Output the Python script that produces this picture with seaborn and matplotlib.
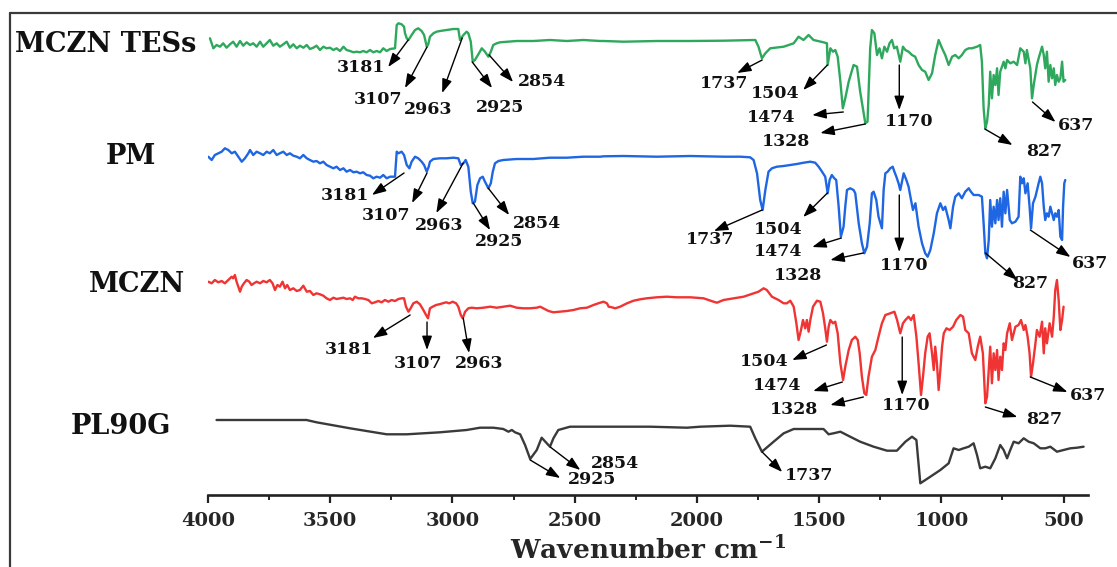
import numpy as np
import pandas as pd
import matplotlib
matplotlib.use("Agg")
import matplotlib.pyplot as plt
from matplotlib.lines import Line2D
from matplotlib.ticker import MultipleLocator
import seaborn as sns

# ---------------- data (wavenumber cm-1, relative transmittance a.u.) ----------------
series_names = ["MCZN TESs", "PM", "MCZN", "PL90G"]
series_colors = ["#2ea85c", "#1f66e3", "#f03333", "#3a3a3a"]
offsets = [420, 300, 180, 40]

tess_wn = [
    3992, 3978, 3965, 3951, 3938, 3924, 3910, 3897, 3883, 3869,
    3856, 3842, 3828, 3815, 3801, 3787, 3774, 3760, 3747, 3733,
    3719, 3706, 3692, 3678, 3665, 3651, 3637, 3624, 3610, 3596,
    3583, 3569, 3556, 3542, 3528, 3515, 3501, 3487, 3474, 3460,
    3446, 3433, 3419, 3405, 3392, 3378, 3365, 3351, 3337, 3324,
    3310, 3296, 3283, 3269, 3255, 3235, 3228, 3221, 3208, 3198,
    3194, 3187, 3180, 3167, 3153, 3140, 3126, 3116, 3105, 3099,
    3092, 3078, 3065, 3051, 3024, 2996, 2976, 2969, 2955, 2942,
    2935, 2925, 2917, 2908, 2894, 2880, 2867, 2853, 2843, 2833,
    2819, 2805, 2737, 2669, 2601, 2532, 2464, 2396,
    2382, 2300, 2164, 2027, 1891, 1823, 1761, 1748, 1734, 1720,
    1700, 1645, 1604, 1584, 1564, 1543, 1523, 1482, 1468, 1465,
    1454, 1443, 1434, 1424, 1413, 1403, 1393, 1379, 1359, 1345,
    1332, 1311, 1302, 1291, 1284, 1274, 1263, 1253, 1243, 1233,
    1222, 1212, 1202, 1193, 1182, 1168, 1157, 1147, 1134, 1120,
    1107, 1093, 1079, 1066, 1052, 1038, 1025, 1011, 997, 984,
    970, 956, 943, 929, 916, 902, 888, 875, 854, 841,
    834, 827, 820, 813, 806, 800, 793, 786, 779, 772,
    766, 759, 745, 738, 731, 718, 704, 690, 677, 663,
    656, 650, 636, 629, 622, 609, 602, 588, 581, 575,
    568, 561, 554, 547, 540, 534, 527, 520, 513, 506,
    500, 493]
tess_t = [
    36.7, 26.7, 30, 28.3, 31.7, 27.3, 30.7, 33.3, 28.3, 34,
    29.3, 32.7, 30, 31.7, 28.3, 33.3, 28.3, 31.7, 35, 29.3,
    31.7, 28.3, 30.7, 33.3, 27.3, 30.7, 26.7, 29.3, 27.3, 30,
    26, 27.3, 29.3, 25, 28.3, 26.7, 27.3, 25, 26.7, 24,
    28.3, 25, 24, 22.7, 23.3, 22.7, 24, 22.7, 25, 22.7,
    24, 22.7, 26.7, 24, 26, 26.7, 50, 51.7, 50.7, 48.3,
    41.7, 36.7, 35, 40, 45, 46.7, 44, 40, 28.3, 30.7,
    38.3, 41.7, 43.3, 44, 45, 46, 46, 35, 40, 43.3,
    41.7, 33.3, 13.3, 15, 20.7, 26.7, 23.3, 18.3, 23.3, 30,
    31.7, 32.7, 34, 34, 35, 34, 35, 34,
    34, 33.3, 34, 34, 34.3, 34.7, 35, 28.3, 16.7, 21.7,
    26.7, 28.3, 31.7, 38.3, 35, 40, 35, 32.7, 31.7, 10,
    26.7, 23.3, 25, 18.3, -6.7, -33.3, -23.3, -6.7, 10, 8.3,
    -16.7, -48.3, -46.7, 26.7, 45, 41.7, 20, 26.7, 16.7, 28.3,
    23.3, 31.7, 35, 26.7, 28.3, 13.3, 28.3, 25, 23.3, 20,
    18.3, 10, 5, 3.3, -5, 1.7, 20, 35, 26.7, 20,
    10, 18.3, 20, 16.7, 20, 25, 26.7, 26.7, 28.3, 30,
    13.3, -33.3, -53.3, -46.7, -30, 3.3, -23.3, 0, -10, 6.7,
    -20, 3.3, 13.3, 6.7, 15, 11.7, 13.3, 10, 26.7, 23.3,
    11.7, 25, 6.7, -23.3, -10, 10, 16.7, 28.3, 20, 6.7,
    23.3, -6.7, 10, -3.3, 6.7, -10, 0, -6.7, -3.3, 13.3,
    -6.7, -5]

pm_wn = [
    3999, 3985, 3972, 3958, 3944, 3931, 3917, 3903, 3890, 3876,
    3862, 3849, 3835, 3828, 3815, 3801, 3787, 3774, 3760, 3747,
    3733, 3719, 3706, 3692, 3678, 3665, 3651, 3637, 3624, 3610,
    3596, 3583, 3569, 3556, 3542, 3528, 3515, 3501, 3487, 3474,
    3460, 3446, 3433, 3419, 3405, 3392, 3378, 3365, 3351, 3337,
    3324, 3310, 3296, 3283, 3269, 3255, 3235, 3228, 3221, 3208,
    3198, 3187, 3176, 3167, 3153, 3140, 3126, 3116, 3105, 3097,
    3092, 3078, 3051, 3024, 2996, 2976, 2966, 2955, 2946, 2935,
    2925, 2917, 2908, 2898, 2887, 2876, 2867, 2853, 2843, 2835,
    2826, 2812, 2792, 2737, 2669, 2601, 2532, 2464, 2396,
    2382, 2300, 2164, 2027, 1891, 1823, 1782, 1768, 1754, 1741,
    1731, 1720, 1707, 1693, 1673, 1645, 1618, 1591, 1563, 1536,
    1516, 1502, 1488, 1475, 1465, 1457, 1448, 1438, 1430, 1420,
    1411, 1400, 1393, 1386, 1373, 1359, 1352, 1338, 1325, 1315,
    1304, 1293, 1284, 1277, 1266, 1257, 1243, 1236, 1229, 1220,
    1209, 1199, 1192, 1184, 1175, 1168, 1161, 1154, 1143, 1134,
    1124, 1116, 1106, 1093, 1079, 1066, 1056, 1045, 1031, 1018,
    1004, 993, 984, 970, 963, 952, 943, 929, 916, 902,
    888, 879, 868, 847, 834, 827, 820, 813, 806, 800,
    793, 786, 779, 772, 766, 759, 752, 745, 738, 731,
    720, 711, 697, 684, 677, 670, 663, 656, 647, 639,
    633, 625, 615, 602, 595, 588, 581, 575, 568, 561,
    554, 540, 534, 527, 520, 513, 506, 502, 497, 493]
pm_t = [
    38.3, 35, 40, 41.7, 43.3, 46.7, 45, 41.7, 43.3, 38.3,
    33.3, 36.7, 41.7, 45, 40, 43.3, 41.7, 40, 43.3, 41.7,
    45, 40, 41.7, 43.3, 40, 41.7, 39.3, 38.3, 36.7, 40,
    36.7, 35, 33.3, 34, 31.7, 33.3, 30, 28.3, 26.7, 28.3,
    25, 26.7, 23.3, 25, 22.7, 23.3, 21.7, 22.7, 20, 19.3,
    16.7, 18.3, 17.3, 20, 16.7, 18.3, 18.3, 43.3, 41.7, 43.3,
    40, 30, 26.7, 33.3, 38.3, 36.7, 33.3, 30, 23.3, 28.3,
    33.3, 36, 36.7, 36.7, 37.3, 36.7, 30, 31.7, 35, 28.3,
    3.3, -8.3, -6.7, 10, 16.7, 18.3, 13.3, 6.7, 11.7, 23.3,
    31.7, 34, 35, 36, 36, 37.3, 37.3, 38.3, 38.3,
    38.7, 39, 38.3, 39, 38.3, 38.3, 37.7, 35, 21.7, -5,
    -15, 5, 23.3, 26.7, 28.3, 29, 30, 31, 32.3, 33.3,
    32.3, 28.3, 23.3, 18.3, 1.7, 15, 20, 16.7, 15, -11.7,
    -41.7, -31.7, -11.7, 5, 6.7, 5, 1.7, -28.3, -48.3, -58.3,
    -51.7, -28.3, 1.7, 3.3, -5, -21.7, -33.3, 5, 21.7, 23.3,
    26.7, 28.3, 23.3, 18.3, 11.7, 5, 13.3, 21.7, 15, 8.3,
    -5, -15, -8.3, -31.7, -48.3, -58.3, -61.7, -55, -38.3, -18.3,
    -8.3, -15, -11.7, -25, -33.3, -11.7, -1.7, 1.7, -3.3, 3.3,
    6.7, 3.3, 0, 0, -1.7, -28.3, -58.3, -63.3, -45, -5,
    -31.7, -11.7, -28.3, -5, -25, -3.3, -31.7, 3.3, -18.3, 5,
    -25, -28.3, -26.7, -21.7, 18.3, 11.7, 16.7, 1.7, 11.7, -11.7,
    -33.3, -8.3, -1.7, 11.7, 18.3, 11.7, -11.7, -25, -18.3, -21.7,
    -11.7, -25, -18.3, -21.7, -15, -41.7, -45, -11.7, 11.7, 15]

mczn_wn = [
    3999, 3985, 3972, 3958, 3944, 3931, 3917, 3903, 3897, 3890,
    3883, 3876, 3869, 3862, 3853, 3842, 3831, 3822, 3812, 3801,
    3787, 3774, 3760, 3747, 3736, 3726, 3716, 3706, 3695, 3685,
    3676, 3665, 3651, 3637, 3624, 3610, 3596, 3583, 3569, 3556,
    3542, 3528, 3515, 3501, 3487, 3474, 3460, 3446, 3433, 3419,
    3408, 3399, 3385, 3371, 3358, 3344, 3330, 3317, 3303, 3290,
    3276, 3262, 3249, 3235, 3221, 3208, 3198, 3190, 3180, 3171,
    3160, 3146, 3133, 3119, 3108, 3100, 3092, 3081, 3067, 3054,
    3040, 3026, 3013, 2999, 2985, 2976, 2966, 2958, 2948, 2935,
    2921, 2901, 2873, 2846, 2819, 2792, 2764, 2737, 2710, 2683,
    2655, 2641, 2628, 2607, 2587, 2560, 2532, 2505, 2478, 2450,
    2423, 2403,
    2382, 2368, 2361, 2348, 2334, 2314, 2286, 2259, 2232, 2205,
    2164, 2123, 2082, 2027, 1973, 1932, 1918, 1891, 1850, 1809,
    1768, 1748, 1727, 1714, 1693, 1666, 1645, 1632, 1618, 1604,
    1593, 1584, 1574, 1566, 1557, 1550, 1543, 1536, 1525, 1509,
    1495, 1484, 1475, 1468, 1461, 1454, 1443, 1434, 1424, 1413,
    1402, 1393, 1379, 1366, 1352, 1342, 1334, 1325, 1315, 1307,
    1298, 1284, 1270, 1257, 1243, 1229, 1209, 1192, 1181, 1168,
    1157, 1147, 1134, 1124, 1113, 1102, 1093, 1083, 1075, 1066,
    1056, 1048, 1038, 1031, 1025, 1018, 1011, 1004, 997, 990,
    979, 966, 952, 939, 922, 911, 902, 888, 875, 861,
    851, 841, 830, 820, 813, 806, 800, 793, 786, 779,
    772, 766, 759, 752, 745, 738, 731, 720, 711, 697,
    684, 674, 663, 656, 647, 639, 633, 625, 615, 609,
    598, 588, 581, 575, 568, 557, 547, 540, 534, 527,
    520, 513, 506, 500]
mczn_t = [
    33.3, 31.7, 35, 32.7, 34, 31.7, 35, 38.3, 36.7, 40,
    33.3, 28.3, 23.3, 28.3, 31.7, 35, 33.3, 30, 31.7, 33.3,
    31.7, 34, 32.7, 35, 31.7, 25, 30, 28.3, 33.3, 26.7,
    30, 25, 26.7, 24, 25, 29.3, 23.3, 24, 20, 21.7,
    20.7, 19.3, 16.7, 15, 17.3, 16, 16.7, 17.3, 16, 16.7,
    15, 18.3, 16.7, 16.7, 16, 15, 11.7, 12.7, 14, 12.7,
    15, 13.3, 15, 14, 16, 16.7, 16.7, 8.3, 3.3, 6.7,
    11.7, 13.3, 10.7, 5, 0, -3.3, 6.7, 8.3, 10, 10.7,
    11.7, 12.7, 11.7, 13.3, 11.7, 8.3, 0, -3.3, 3.3, 6.7,
    7.3, 6.7, 7.3, 8.3, 7.3, 8.3, 9.3, 7.3, 6.7, 6.7,
    7.3, 8.3, 6.7, 4, 2.7, 3.3, 4, 5, 6.7, 7.3,
    10, 11.7,
    13.3, 11.7, 8.3, 7.7, 6.7, 8.3, 11.7, 14.3, 15.7, 16.7,
    17.7, 18.3, 17.7, 17.7, 16.7, 13.3, 12.3, 15, 16.7, 18.3,
    21.7, 23.3, 26.7, 25, 18.3, 15, 11.7, 11.7, 14.3, 8.3,
    -8.3, -25, -15, -5, -13.3, -5, -16.7, -5, 8.3, 14.3,
    13.3, 1.7, -13.3, -26.7, -11.7, -5, -8.3, -6.7, -18.3, -48.3,
    -65, -51.7, -35, -25, -21.7, -25, -38.3, -61.7, -78.3, -80,
    -61.7, -41.7, -35, -21.7, -8.3, 0, 1.7, 3.3, -5, -18.3,
    -8.3, -5, -1.7, -5, 0, -21.7, -48.3, -80, -61.7, -38.3,
    -21.7, -18.3, -38.3, -55, -31.7, -48.3, -75, -55, -31.7, -18.3,
    -13.3, -15, -11.7, -5, 0, -1.7, -15, -18.3, -38.3, -45,
    -31.7, -21.7, -38.3, -88.3, -81.7, -55, -31.7, -68.3, -38.3, -55,
    -35, -65, -41.7, -55, -28.3, -35, -18.3, -8.3, -25, -11.7,
    -10, -5, -15, -10, -21.7, -38.3, -61.7, -48.3, -28.3, -15,
    -21.7, -6.7, -38.3, -13.3, -28.3, -8.3, -21.7, -1.7, 25, 35,
    15, -15, -5, 8.3]

pl90g_wn = [
    3965, 3597, 3556, 3419, 3269, 3187, 3051, 2942, 2887, 2833,
    2792, 2771, 2757, 2744, 2723, 2703, 2682, 2655, 2635, 2614,
    2601, 2587, 2567, 2519, 2191, 2041, 1986, 1864, 1782, 1761,
    1734, 1686, 1645, 1604, 1482, 1461, 1441, 1413, 1373, 1332,
    1277, 1222, 1182, 1147, 1120, 1102, 1086, 1045, 1004, 970,
    950, 929, 909, 888, 868, 854, 841, 820, 800, 779,
    759, 745, 731, 718, 704, 684, 663, 643, 622, 595,
    575, 554, 527, 500, 472, 445, 418]
pl90g_t = [
    35, 35, 32.7, 26.7, 20.7, 20.7, 22.7, 25, 27.3, 27.3,
    26, 23.3, 25, 22.7, 20.7, 10, -4, 5, 17.3, 11.7,
    8.3, 16.7, 25, 28.3, 28.3, 27.3, 28.3, 29.3, 28.3, 16.7,
    3.3, 13.3, 21.7, 26, 26, 20.7, 21.7, 23.3, 18.3, 13.3,
    8.3, 4.3, 4.3, 13.3, 18.3, 15, -28.3, -21.7, -15, -8.3,
    6.7, 5, 6.7, 8.3, 11.7, 0, -13.3, -11.7, -13.3, -3.3,
    10, 5, -3.3, 5, 13.3, 11.7, 16.7, 13.3, 11.7, 6.7,
    6.7, 8.3, 3.3, 5, 6.7, 7.3, 8.3]

x_ticks = [4000, 3500, 3000, 2500, 2000, 1500, 1000, 500]
x_label = r"Wavenumber cm$^{\mathbf{-1}}$"

# peak labels: (series index, label, tail wn, tail y, head wn, head y, text wn, text y)
peak_labels = [
    (0, "3181", 3181, 455, 3263, 428, 3374, 427),
    (0, "3107", 3104, 448, 3194, 407, 3304, 395),
    (0, "2963", 2960, 457, 3042, 402, 3100, 385),
    (0, "2925", 2919, 433, 2838, 407, 2805, 387),
    (0, "2854", 2850, 440, 2752, 413, 2633, 414),
    (0, "1737", 1733, 435, 1835, 422, 1888, 411),
    (0, "1504", 1466, 430, 1565, 405, 1679, 402),
    (0, "1474", 1401, 383, 1528, 380, 1696, 378),
    (0, "1328", 1311, 371, 1495, 362, 1634, 354),
    (0, "1170", 1172, 430, 1172, 385, 1131, 374),
    (0, "827", 822, 366, 709, 350, 578, 343),
    (0, "637", 627, 393, 533, 373, 447, 370),
    (1, "3181", 3198, 322, 3329, 300, 3439, 299),
    (1, "3107", 3104, 322, 3165, 292, 3271, 279),
    (1, "2963", 2956, 332, 3066, 282, 3054, 270),
    (1, "2925", 2915, 292, 2846, 265, 2809, 254),
    (1, "2854", 2854, 307, 2768, 280, 2653, 272),
    (1, "1737", 1733, 285, 1930, 264, 1945, 256),
    (1, "1504", 1466, 302, 1565, 278, 1667, 266),
    (1, "1474", 1409, 257, 1528, 248, 1667, 243),
    (1, "1328", 1319, 242, 1454, 235, 1585, 219),
    (1, "1170", 1172, 300, 1172, 243, 1151, 229),
    (1, "827", 820, 242, 689, 215, 636, 211),
    (1, "637", 636, 265, 472, 238, 390, 232),
    (2, "3181", 3173, 180, 3325, 157, 3423, 145),
    (2, "3107", 3104, 173, 3104, 145, 3140, 132),
    (2, "2963", 2956, 177, 2932, 142, 2891, 132),
    (2, "1504", 1470, 150, 1610, 135, 1724, 134),
    (2, "1474", 1405, 113, 1524, 104, 1671, 110),
    (2, "1328", 1319, 98, 1454, 90, 1601, 86),
    (2, "1170", 1160, 158, 1160, 100, 1143, 89),
    (2, "827", 820, 88, 689, 78, 578, 76),
    (2, "637", 636, 118, 484, 103, 398, 99),
    (3, "2854", 2600, 48, 2477, 25, 2334, 31),
    (3, "2925", 2682, 35, 2559, 17, 2428, 15),
    (3, "1737", 1733, 43, 1651, 23, 1540, 19),
]

# ---------------- build table ----------------
frames = []
for name, wn, t, off in zip(series_names,
                            [tess_wn, pm_wn, mczn_wn, pl90g_wn],
                            [tess_t, pm_t, mczn_t, pl90g_t], offsets):
    assert len(wn) == len(t), name
    frames.append(pd.DataFrame({"series": name, "wavenumber": wn,
                                "signal": np.asarray(t, float) + off}))
df = pd.concat(frames, ignore_index=True)

# ---------------- style ----------------
sns.set_theme(style="white")
plt.rcParams["font.family"] = ["DejaVu Serif"]
plt.rcParams["font.weight"] = "bold"
plt.rcParams["mathtext.fontset"] = "dejavuserif"

W, H = 1117, 567
fig = plt.figure(figsize=(W / 100, H / 100), dpi=100)
fig.patch.set_facecolor("white")
ax = fig.add_axes([208 / W, 72 / H, 880 / W, 482 / H])
ax.set_facecolor("white")

for name, color in zip(series_names, series_colors):
    sub = df[df["series"] == name]
    sns.lineplot(data=sub, x="wavenumber", y="signal", ax=ax, color=color,
                 lw=1.7, estimator=None, sort=False, legend=False)

ax.set_xlim(4000, 400)
ax.set_ylim(0, 482)
for s in ["left", "right", "top"]:
    ax.spines[s].set_visible(False)
ax.spines["bottom"].set_linewidth(1.9)
ax.spines["bottom"].set_color("#222222")
ax.set_yticks([])
ax.set_ylabel("")
ax.set_xticks(x_ticks)
ax.set_xticklabels([str(v) for v in x_ticks])
ax.xaxis.set_minor_locator(MultipleLocator(250))
ax.tick_params(axis="x", which="both", bottom=True, direction="out",
               color="#222222")
ax.tick_params(axis="x", which="major", length=6, width=1.6,
               labelsize=14, pad=6)
ax.tick_params(axis="x", which="minor", length=3.8, width=1.4)
for lab in ax.get_xticklabels():
    lab.set_fontweight("bold")

ax.set_xlabel(x_label, fontsize=19, fontweight="bold")
ax.xaxis.set_label_coords(0.5, -(550 - 495) / 482)
ax.xaxis.label.set_va("center")

# peak annotations
for si, txt, tx, ty, hx, hy, lx, ly in peak_labels:
    ax.annotate("", xy=(hx, hy), xytext=(tx, ty),
                arrowprops=dict(arrowstyle="-|>,head_length=0.7,head_width=0.25",
                                color="black", lw=1.0, mutation_scale=12,
                                shrinkA=0, shrinkB=0),
                annotation_clip=False)
    ax.text(lx, ly, txt, ha="center", va="center", fontsize=12.5,
            fontweight="bold", color="#111111")

# series names
name_pos = [(106, 44), (131, 157), (137, 285), (121, 426)]
for name, (px, py) in zip(series_names, name_pos):
    fig.text(px / W, 1 - py / H, name, ha="center", va="center",
             fontsize=19.5, fontweight="bold", color="#111111")

# outer frame
fig.add_artist(Line2D([10 / W, 1], [1 - 13 / H, 1 - 13 / H],
                      transform=fig.transFigure, color="#3a3a3a", lw=1.6))
fig.add_artist(Line2D([10 / W, 10 / W], [0, 1 - 13 / H],
                      transform=fig.transFigure, color="#3a3a3a", lw=1.6))

fig.savefig("out.png", dpi=100)
